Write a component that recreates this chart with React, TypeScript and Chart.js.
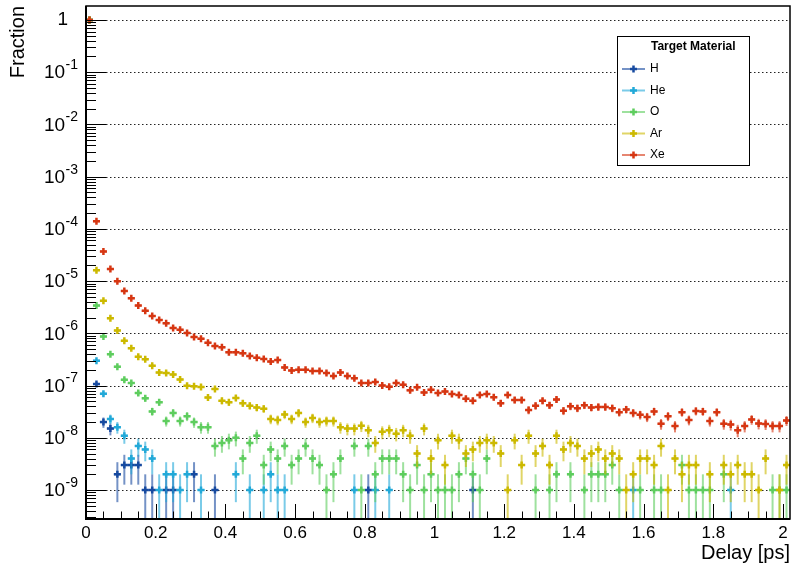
import React, { useEffect, useRef } from "react";
import { Chart, registerables } from "chart.js";

Chart.register(...registerables);

const FONT = "'Liberation Sans', Arial, Helvetica, sans-serif";

// Histogram binning (delay in ps)
const BIN_WIDTH = 0.02;
const TOTAL_EVENTS = 1e9; // fraction -> counts (used for Poisson error bars)

// Axis ticks
const X_TICK_VALUES = [0, 0.2, 0.4, 0.6, 0.8, 1.0, 1.2, 1.4, 1.6, 1.8, 2.0];
const X_TICK_LABELS = ["0", "0.2", "0.4", "0.6", "0.8", "1", "1.2", "1.4", "1.6", "1.8", "2"];
const Y_DECADE_EXPONENTS = [0, -1, -2, -3, -4, -5, -6, -7, -8, -9];

// Series (fraction per 0.02 ps bin, bins centred at 0.01, 0.03, ...)
const SERIES_LABELS = ["H", "He", "O", "Ar", "Xe"];

const H_FRACTION = [
  1, 1.07e-7, 2.0e-8, 1.5e-8, 2e-9, 3e-9, 3e-9, 3e-9, 1e-9, 1e-9,
  null, 1e-9, 1e-9, null, null, 2e-9, null, null, 1e-9, null,
  null, null, null, null, null, null, null, null, null, null,
  null, null, null, null, null, null, null, null, null, null,
  1e-9, null, null, null, null, null, null, null, null, null,
  null, null, null, null, null, 1e-9, null, null, null, null,
  null, null, null, null, null, null, null, null, null, null,
  null, null, null, null, null, null, null, null, null, null,
  null, null, null, null, null, null, null, null, null, null,
  null, null, null, null, null, null, null, null, null, null,
  null,
];

const HE_FRACTION = [
  1, 3.0e-7, 7.0e-8, 2.3e-8, 1.6e-8, 1.1e-8, 4e-9, 7e-9, 6e-9, 4e-9,
  1e-9, 2e-9, 2e-9, 1e-9, 2e-9, null, 1e-9, null, null, null,
  null, 2e-9, null, 1e-9, null, 1e-9, 2e-9, 1e-9, 1e-9, null,
  null, null, null, null, null, null, null, null, 1e-9, null,
  null, 1e-9, null, 1e-9, null, null, null, null, null, null,
  null, null, null, null, null, null, null, null, null, null,
  null, null, null, null, null, null, null, null, null, null,
  null, null, null, null, null, null, null, null, 1e-9, null,
  null, null, null, null, null, null, null, null, null, null,
  null, null, 1e-9, null, null, null, null, null, null, null,
  null,
];

const O_FRACTION = [
  1, 3.4e-6, 8.7e-7, 4.0e-7, 2.3e-7, 1.29e-7, 1.12e-7, 7.2e-8, 5.7e-8, 3.2e-8,
  4.8e-8, 2.1e-8, 3.0e-8, 2.1e-8, 2.6e-8, 2.0e-8, 1.6e-8, 1.6e-8, 7e-9, 8e-9,
  9e-9, 1.0e-8, 4e-9, 8e-9, 1.1e-8, 3e-9, 6e-9, 4e-9, 7e-9, 3e-9,
  4e-9, 7e-9, 4e-9, 3e-9, 1e-9, 2e-9, 4e-9, null, 7e-9, 1e-9,
  7e-9, 2e-9, 4e-9, 4e-9, 4e-9, 2e-9, 1e-9, 3e-9, 1e-9, 2e-9,
  1e-9, 1e-9, 1e-9, 2e-9, 4e-9, 2e-9, 1e-9, 4e-9, null, null,
  null, null, null, null, 1e-9, null, 1e-9, 2e-9, null, 2e-9,
  null, 1e-9, 2e-9, 2e-9, 2e-9, 3e-9, 1e-9, null, null, 1e-9,
  null, 1e-9, 1e-9, null, null, 3e-9, 1e-9, 1e-9, 1e-9, 1e-9,
  null, 2e-9, null, null, null, null, null, null, 1e-9, 1e-9,
  1e-9,
];

const AR_FRACTION = [
  1, 1.62e-5, 4.2e-6, 1.95e-6, 1.13e-6, 7.2e-7, 5.2e-7, 3.55e-7, 3.2e-7, 2.4e-7,
  1.78e-7, 1.74e-7, 1.63e-7, 1.31e-7, 9.9e-8, 9.7e-8, 9.4e-8, 5.9e-8, 8.6e-8, 5.1e-8,
  4.8e-8, 5.8e-8, 4.6e-8, 4.1e-8, 3.8e-8, 3.6e-8, 2.3e-8, 2.2e-8, 2.8e-8, 2.3e-8,
  3.0e-8, 2.0e-8, 2.4e-8, 2.0e-8, 2.1e-8, 2.1e-8, 1.6e-8, 1.5e-8, 1.5e-8, 1.7e-8,
  1.4e-8, 8e-9, 1.3e-8, 1.4e-8, 1.2e-8, 1.4e-8, 1.1e-8, 5e-9, 1.5e-8, 4e-9,
  9e-9, 3e-9, 1.1e-8, 9e-9, 5e-9, 6e-9, 8e-9, 9e-9, 8e-9, 5e-9,
  1e-9, 9e-9, 3e-9, 1.1e-8, 5e-9, 7e-9, 3e-9, 1.1e-8, 6e-9, 8e-9,
  7e-9, 4e-9, 5e-9, 6e-9, 4e-9, 5e-9, 4e-9, 1e-9, 2e-9, 4e-9,
  4e-9, 3e-9, 7e-9, 1e-9, 4e-9, 2e-9, 3e-9, 3e-9, null, 2e-9,
  null, 3e-9, 2e-9, 3e-9, 2e-9, 2e-9, 1e-9, 4e-9, null, 1e-9,
  3e-9,
];

const XE_FRACTION = [
  1, 1.4e-4, 3.7e-5, 1.7e-5, 1.0e-5, 6.5e-6, 4.7e-6, 3.4e-6, 2.7e-6, 2.15e-6,
  1.8e-6, 1.56e-6, 1.27e-6, 1.17e-6, 1.02e-6, 8.5e-7, 7.9e-7, 6.6e-7, 5.7e-7, 5.4e-7,
  4.35e-7, 4.35e-7, 4.15e-7, 3.7e-7, 3.4e-7, 3.24e-7, 2.88e-7, 3.08e-7, 2.23e-7, 1.95e-7,
  2.0e-7, 2.0e-7, 1.9e-7, 1.9e-7, 1.74e-7, 1.52e-7, 1.78e-7, 1.52e-7, 1.38e-7, 1.12e-7,
  1.12e-7, 1.17e-7, 1.0e-7, 9.5e-8, 1.12e-7, 1.04e-7, 8.1e-8, 9.3e-8, 7.4e-8, 8.3e-8,
  7.2e-8, 7.7e-8, 6.9e-8, 6.6e-8, 5.6e-8, 5.1e-8, 6.6e-8, 6.9e-8, 6.0e-8, 4.6e-8,
  6.6e-8, 5.3e-8, 5.3e-8, 3.4e-8, 4.1e-8, 5.1e-8, 4.2e-8, 5.4e-8, 3.3e-8, 4.0e-8,
  3.7e-8, 4.2e-8, 3.8e-8, 3.9e-8, 3.9e-8, 3.7e-8, 3.1e-8, 3.5e-8, 3.0e-8, 2.76e-8,
  2.5e-8, 3.2e-8, 1.86e-8, 2.6e-8, 1.68e-8, 3.1e-8, 2.2e-8, 3.25e-8, 3.2e-8, 2.1e-8,
  3.1e-8, 1.86e-8, 1.8e-8, 1.4e-8, 1.68e-8, 2.25e-8, 1.88e-8, 1.84e-8, 1.68e-8, 1.68e-8,
  2.15e-8,
];

const SERIES_VALUES = [H_FRACTION, HE_FRACTION, O_FRACTION, AR_FRACTION, XE_FRACTION];
const SERIES_COLORS = ["#174aa0", "#22a9d8", "#5ecd5e", "#ccb900", "#d63612"];
const SERIES_ERROR_COLORS = [
  "rgba(23,74,160,0.6)",
  "rgba(34,169,216,0.6)",
  "rgba(94,205,94,0.6)",
  "rgba(204,185,0,0.6)",
  "rgba(214,54,18,0.6)",
];

const binCenters = XE_FRACTION.map((_, i) => +(BIN_WIDTH * (i + 0.5)).toFixed(3));

const Y_MIN = 2.79e-10;
const Y_MAX = 1.852;
const X_MIN = 0;
const X_MAX = 2.02;

function drawPlus(ctx: CanvasRenderingContext2D, x: number, y: number, r: number) {
  ctx.beginPath();
  ctx.moveTo(x - r, y);
  ctx.lineTo(x + r, y);
  ctx.moveTo(x, y - r);
  ctx.lineTo(x, y + r);
  ctx.stroke();
}

const rootStylePlugin = {
  id: "rootStyle",
  beforeDatasetsDraw(chart: any) {
    const { ctx, chartArea: ca, scales } = chart;
    const y = scales.y;
    ctx.save();
    ctx.strokeStyle = "#222";
    ctx.lineWidth = 1;
    ctx.setLineDash([1.5, 2.5]);
    for (const k of Y_DECADE_EXPONENTS) {
      const py = Math.round(y.getPixelForValue(Math.pow(10, k))) + 0.5;
      ctx.beginPath();
      ctx.moveTo(ca.left, py);
      ctx.lineTo(ca.right, py);
      ctx.stroke();
    }
    ctx.restore();
  },
  beforeDatasetDraw(chart: any, args: any) {
    const ds = chart.data.datasets[args.index];
    const { ctx, chartArea: ca, scales } = chart;
    const x = scales.x;
    const y = scales.y;
    ctx.save();
    ctx.beginPath();
    ctx.rect(ca.left, ca.top, ca.right - ca.left, ca.bottom - ca.top);
    ctx.clip();
    ctx.strokeStyle = ds.errorColor;
    ctx.lineWidth = 2;
    for (const p of ds.data) {
      if (p.y == null) continue;
      const err = Math.sqrt(p.y * TOTAL_EVENTS) / TOTAL_EVENTS;
      const px = x.getPixelForValue(p.x);
      const py = y.getPixelForValue(p.y);
      const hi = y.getPixelForValue(p.y + err);
      const loV = p.y - err;
      const lo = loV > 1e-13 ? y.getPixelForValue(loV) : ca.bottom + 5;
      ctx.beginPath();
      ctx.moveTo(px, Math.min(lo, ca.bottom + 5));
      ctx.lineTo(px, hi);
      ctx.stroke();
      const x0 = x.getPixelForValue(p.x - BIN_WIDTH / 2);
      const x1 = x.getPixelForValue(p.x + BIN_WIDTH / 2);
      ctx.beginPath();
      ctx.moveTo(x0, py);
      ctx.lineTo(x1, py);
      ctx.stroke();
    }
    ctx.restore();
  },
  afterDraw(chart: any) {
    const { ctx, chartArea: ca, scales } = chart;
    const x = scales.x;
    const y = scales.y;
    ctx.save();
    // ticks (inside the frame, ROOT style)
    ctx.strokeStyle = "#000";
    ctx.lineWidth = 1;
    for (let e = 0; e >= -10; e--) {
      for (let m = 1; m <= 9; m++) {
        const v = m * Math.pow(10, e);
        if (v < Y_MIN || v > Y_MAX) continue;
        const py = Math.round(y.getPixelForValue(v)) + 0.5;
        const len = m === 1 ? 20 : 10;
        ctx.beginPath();
        ctx.moveTo(ca.left, py);
        ctx.lineTo(ca.left + len, py);
        ctx.stroke();
      }
    }
    for (let j = 0; j * 0.05 <= X_MAX + 1e-9; j++) {
      const v = j * 0.05;
      const px = Math.round(x.getPixelForValue(v)) + 0.5;
      const len = j % 4 === 0 ? 15 : 7.5;
      ctx.beginPath();
      ctx.moveTo(px, ca.bottom);
      ctx.lineTo(px, ca.bottom - len);
      ctx.stroke();
    }
    // frame
    ctx.lineWidth = 1.5;
    ctx.strokeRect(ca.left, ca.top, ca.right - ca.left, ca.bottom - ca.top);
    ctx.lineWidth = 2;
    ctx.beginPath();
    ctx.moveTo(ca.left, ca.top);
    ctx.lineTo(ca.left, ca.bottom);
    ctx.lineTo(ca.right, ca.bottom);
    ctx.stroke();

    // y tick labels 1, 10^-1 ... 10^-9
    ctx.fillStyle = "#000";
    ctx.textBaseline = "middle";
    for (const k of Y_DECADE_EXPONENTS) {
      const py = y.getPixelForValue(Math.pow(10, k));
      if (k === 0) {
        ctx.font = `19px ${FONT}`;
        ctx.textAlign = "right";
        ctx.fillText("1", 68, py);
      } else {
        const exp = "-" + String(-k);
        ctx.font = `14px ${FONT}`;
        const ew = ctx.measureText(exp).width;
        const right = 78;
        ctx.textAlign = "left";
        ctx.fillText(exp, right - ew, py - 7);
        ctx.font = `19px ${FONT}`;
        ctx.textAlign = "right";
        ctx.fillText("10", right - ew - 0.5, py + 1);
      }
    }

    // legend
    const L = { left: 617, top: 36, right: 749, bottom: 165 };
    ctx.fillStyle = "#fff";
    ctx.fillRect(L.left, L.top, L.right - L.left, L.bottom - L.top);
    ctx.strokeStyle = "#000";
    ctx.lineWidth = 1;
    ctx.strokeRect(L.left + 0.5, L.top + 0.5, L.right - L.left, L.bottom - L.top);
    ctx.fillStyle = "#000";
    ctx.font = `bold 12px ${FONT}`;
    ctx.textAlign = "left";
    ctx.fillText("Target Material", 651, 47);
    chart.data.datasets.forEach((ds: any, i: number) => {
      const ly = 69 + i * 21.5;
      ctx.strokeStyle = ds.errorColor;
      ctx.lineWidth = 2;
      ctx.beginPath();
      ctx.moveTo(622, ly);
      ctx.lineTo(645, ly);
      ctx.stroke();
      ctx.strokeStyle = ds.borderColor;
      ctx.lineWidth = 2.5;
      drawPlus(ctx, 633.5, ly, 3.5);
      ctx.fillStyle = "#000";
      ctx.font = `12px ${FONT}`;
      ctx.fillText(ds.label, 650, ly);
    });
    ctx.restore();
  },
};

export default function App() {
  const canvasRef = useRef<HTMLCanvasElement | null>(null);

  useEffect(() => {
    document.body.style.margin = "0";
    const canvas = canvasRef.current;
    if (!canvas) return;
    const datasets = SERIES_LABELS.map((label, s) => ({
      label,
      data: SERIES_VALUES[s]
        .map((v, i) => ({ x: binCenters[i], y: v }))
        .filter((p) => p.y !== null),
      pointStyle: "cross",
      pointRadius: 3.5,
      pointHoverRadius: 3.5,
      pointBorderWidth: 2.5,
      borderColor: SERIES_COLORS[s],
      backgroundColor: SERIES_COLORS[s],
      pointBorderColor: SERIES_COLORS[s],
      errorColor: SERIES_ERROR_COLORS[s],
      showLine: false,
      order: SERIES_LABELS.length - s,
    }));

    const chart = new Chart(canvas, {
      type: "scatter",
      data: { datasets } as any,
      options: {
        animation: false,
        responsive: false,
        maintainAspectRatio: false,
        devicePixelRatio: 1,
        layout: { padding: { top: 5, right: 2, left: 0, bottom: 0 } },
        plugins: { legend: { display: false }, tooltip: { enabled: false } },
        scales: {
          x: {
            type: "linear",
            min: X_MIN,
            max: X_MAX,
            position: "bottom",
            afterBuildTicks: (s: any) => {
              s.ticks = X_TICK_VALUES.map((v) => ({ value: v }));
            },
            afterFit: (s: any) => {
              s.height = 54;
            },
            grid: { display: false, drawTicks: false },
            border: { display: false },
            ticks: {
              autoSkip: false,
              maxRotation: 0,
              padding: 4,
              color: "#000",
              font: { family: FONT, size: 17 },
              callback: (_v: any, i: number) => X_TICK_LABELS[i],
            },
            title: {
              display: true,
              text: "Delay [ps]",
              align: "end",
              color: "#000",
              font: { family: FONT, size: 20 },
              padding: { top: 0, bottom: 8 },
            },
          },
          y: {
            type: "logarithmic",
            min: Y_MIN,
            max: Y_MAX,
            afterFit: (s: any) => {
              s.width = 86;
            },
            ticks: { display: false },
            grid: { display: false },
            border: { display: false },
            title: {
              display: true,
              text: "Fraction",
              align: "end",
              color: "#000",
              font: { family: FONT, size: 20 },
              padding: { top: 6, bottom: 0 },
            },
          },
        },
      } as any,
      plugins: [rootStylePlugin],
    });
    return () => chart.destroy();
  }, []);

  return (
    <div style={{ width: 796, height: 573 }}>
      <canvas ref={canvasRef} width={796} height={573} style={{ display: "block" }} />
    </div>
  );
}
